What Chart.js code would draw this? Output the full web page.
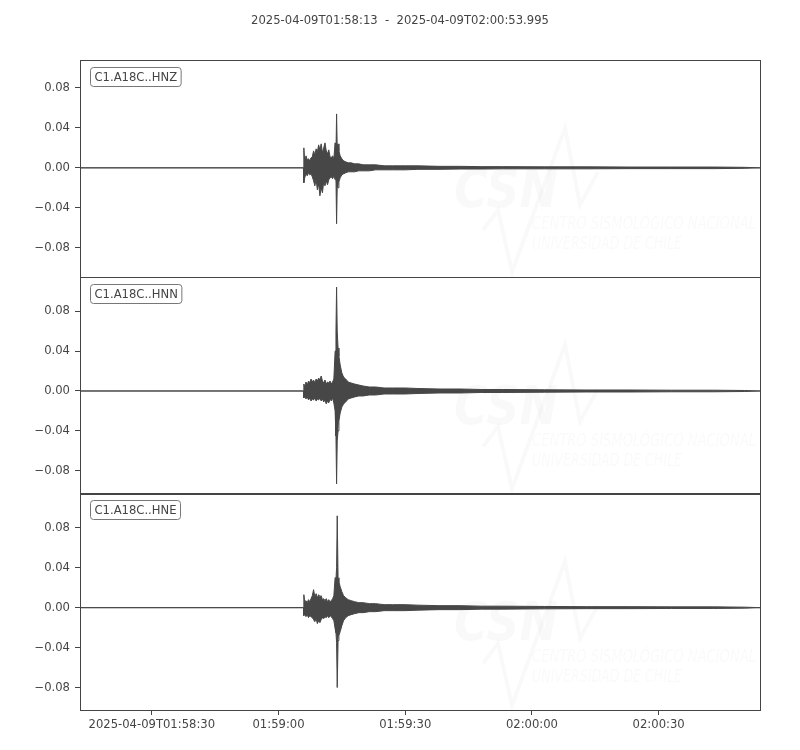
<!DOCTYPE html>
<html>
<head>
<meta charset="utf-8">
<script src="https://cdn.jsdelivr.net/npm/chart.js@4.4.1/dist/chart.umd.min.js"></script>
<style>
  html, body { margin: 0; padding: 0; background: #fff; }
  #wrap { width: 800px; height: 750px; position: relative; }
</style>
</head>
<body>
<div id="wrap"><canvas id="seismo"></canvas></div>
<script>
// Seconds after 2025-04-09T01:58:13
const startLabel = '2025-04-09T01:58:13';
const endLabel = '2025-04-09T02:00:53.995';
const duration = 160.995;
const traceNames = ['C1.A18C..HNZ', 'C1.A18C..HNN', 'C1.A18C..HNE'];
const xTickSeconds = [17, 47, 77, 107, 137];
const xTickLabels = ['2025-04-09T01:58:30', '01:59:00', '01:59:30', '02:00:00', '02:00:30'];
const yTicks = [-0.08, -0.04, 0, 0.04, 0.08];
const yMins = [-0.109, -0.1025, -0.1025];
const yMaxs = [0.108, 0.1145, 0.1145];

// envelope sample times (s)
const times = [0, 52.9, 53.0, 53.2, 53.5, 53.8, 54.1, 54.4, 54.7, 55.0, 55.3, 55.6, 55.9, 56.2, 56.5, 56.8,
  57.1, 57.4, 57.7, 58.0, 58.3, 58.6, 58.9, 59.2, 59.5, 59.8, 60.1, 60.4, 60.6, 60.75, 60.9, 61.1, 61.3,
  61.6, 62.0, 62.4, 62.9, 63.5, 64.2, 65, 66, 67, 68.5, 70, 72, 74, 77, 80, 85, 90, 95, 100, 110, 120,
  130, 140, 150, 157.4, 160.995];

// HNZ envelope
const hnzUpper = [0, 0, 0.020, 0.006, 0.012, 0.008, 0.009, 0.007, 0.010, 0.011, 0.017, 0.013, 0.019, 0.016, 0.023, 0.018,
  0.024, 0.015, 0.020, 0.025, 0.017, 0.014, 0.018, 0.011, 0.010, 0.012, 0.009, 0.025, 0.014, 0.054, 0.020, 0.024, 0.017,
  0.012, 0.009, 0.007, 0.006, 0.005, 0.005, 0.004, 0.004, 0.003, 0.003, 0.003, 0.002, 0.002, 0.002, 0.002, 0.0015, 0.0015, 0.0012, 0.0012, 0.001, 0.001,
  0.0008, 0.0008, 0.0008, 0.0005, 0];
const hnzLower = [0, 0, -0.015, -0.010, -0.006, -0.008, -0.005, -0.007, -0.006, -0.009, -0.013, -0.018, -0.012, -0.022, -0.016, -0.028,
  -0.020, -0.025, -0.014, -0.018, -0.013, -0.017, -0.012, -0.010, -0.009, -0.011, -0.008, -0.012, -0.010, -0.056, -0.018, -0.020, -0.014,
  -0.010, -0.007, -0.006, -0.005, -0.004, -0.004, -0.004, -0.003, -0.003, -0.003, -0.002, -0.002, -0.002, -0.002, -0.0015, -0.0015, -0.0012, -0.0012, -0.001, -0.001, -0.001,
  -0.0008, -0.0008, -0.0008, -0.0005, 0];

// HNN envelope
const hnnUpper = [0, 0, 0.007, 0.004, 0.009, 0.006, 0.010, 0.008, 0.012, 0.009, 0.011, 0.008, 0.012, 0.010, 0.013, 0.011,
  0.015, 0.010, 0.008, 0.011, 0.007, 0.009, 0.008, 0.010, 0.007, 0.009, 0.012, 0.040, 0.060, 0.104, 0.060, 0.043, 0.035,
  0.026, 0.018, 0.014, 0.012, 0.009, 0.008, 0.007, 0.006, 0.005, 0.004, 0.004, 0.003, 0.003, 0.003, 0.0025, 0.002, 0.002, 0.0015, 0.0015, 0.0012, 0.001,
  0.001, 0.0008, 0.0008, 0.0005, 0];
const hnnLower = [0, 0, -0.007, -0.005, -0.008, -0.006, -0.009, -0.007, -0.010, -0.008, -0.009, -0.007, -0.010, -0.008, -0.009, -0.007,
  -0.010, -0.008, -0.011, -0.009, -0.013, -0.010, -0.012, -0.008, -0.010, -0.007, -0.012, -0.020, -0.045, -0.093, -0.050, -0.040, -0.030,
  -0.022, -0.016, -0.013, -0.011, -0.008, -0.007, -0.006, -0.005, -0.005, -0.004, -0.004, -0.003, -0.003, -0.003, -0.0025, -0.002, -0.002, -0.0015, -0.0015, -0.0012, -0.001,
  -0.001, -0.0008, -0.0008, -0.0005, 0];

// HNE envelope
const hneUpper = [0, 0, 0.013, 0.006, 0.007, 0.005, 0.008, 0.006, 0.009, 0.012, 0.018, 0.011, 0.014, 0.010, 0.013, 0.011,
  0.012, 0.008, 0.009, 0.007, 0.009, 0.006, 0.008, 0.006, 0.007, 0.009, 0.012, 0.030, 0.028, 0.040, 0.092, 0.030, 0.026,
  0.021, 0.016, 0.012, 0.010, 0.008, 0.007, 0.006, 0.005, 0.005, 0.004, 0.004, 0.003, 0.003, 0.003, 0.0025, 0.002, 0.002, 0.0015, 0.0015, 0.0012, 0.001,
  0.001, 0.0008, 0.0008, 0.0005, 0];
const hneLower = [0, 0, -0.008, -0.006, -0.009, -0.007, -0.010, -0.008, -0.009, -0.010, -0.012, -0.014, -0.011, -0.016, -0.013, -0.015,
  -0.012, -0.010, -0.011, -0.009, -0.010, -0.008, -0.010, -0.008, -0.009, -0.011, -0.013, -0.021, -0.025, -0.035, -0.080, -0.033, -0.028,
  -0.024, -0.018, -0.013, -0.010, -0.008, -0.007, -0.006, -0.005, -0.005, -0.004, -0.004, -0.003, -0.003, -0.003, -0.0025, -0.002, -0.002, -0.0015, -0.0015, -0.0012, -0.001,
  -0.001, -0.0008, -0.0008, -0.0005, 0];

const waveColor = '#474747';
const textColor = '#444444';
const frameColor = '#444444';
const fontFamily = '"DejaVu Sans", sans-serif';

const envelopes = [[hnzUpper, hnzLower], [hnnUpper, hnnLower], [hneUpper, hneLower]];
const axisIds = ['y1', 'y2', 'y3'];

function toPoints(values) {
    return times.map((t, i) => ({ x: t, y: values[i] }));
}

const datasets = [];
envelopes.forEach((env, i) => {
    datasets.push({
        label: traceNames[i] + ' max',
        data: toPoints(env[0]),
        yAxisID: axisIds[i],
        borderColor: waveColor,
        backgroundColor: waveColor,
        borderWidth: 1,
        borderJoinStyle: 'bevel',
        pointRadius: 0,
        fill: '+1'
    });
    datasets.push({
        label: traceNames[i] + ' min',
        data: toPoints(env[1]),
        yAxisID: axisIds[i],
        borderColor: waveColor,
        borderWidth: 1,
        borderJoinStyle: 'bevel',
        pointRadius: 0,
        fill: false
    });
});

function yScale(i) {
    return {
        type: 'linear',
        position: 'left',
        stack: 'traces',
        stackWeight: 1,
        min: yMins[i],
        max: yMaxs[i],
        afterBuildTicks: (scale) => { scale.ticks = yTicks.map(v => ({ value: v })); },
        afterFit: (scale) => { scale.width = 80; },
        grid: { drawOnChartArea: false, tickLength: 5, color: frameColor, tickColor: frameColor },
        border: { display: false },
        ticks: {
            color: textColor,
            padding: 5,
            font: { family: fontFamily, size: 11.6 },
            callback: (v) => v.toFixed(2).replace('-', '\u2212')
        }
    };
}

// title, panel frames, trace labels, faint watermark
const panelPlugin = {
    id: 'panels',
    beforeDatasetsDraw(chart) {
        const ctx = chart.ctx;
        const area = chart.chartArea;
        ctx.save();
        ctx.fillStyle = textColor;
        ctx.font = '11.6px ' + fontFamily;
        ctx.textAlign = 'center';
        ctx.textBaseline = 'middle';
        ctx.fillText(startLabel + '  -  ' + endLabel, chart.width / 2, 21);
        ctx.restore();

        axisIds.forEach((id) => {
            const s = chart.scales[id];
            const L = area.left, T = s.top;
            ctx.save();
            ctx.fillStyle = 'rgba(0,0,0,0.022)';
            ctx.strokeStyle = 'rgba(0,0,0,0.022)';
            ctx.textBaseline = 'alphabetic';
            ctx.font = 'italic bold 54px "DejaVu Sans", sans-serif';
            ctx.save();
            ctx.translate(L + 374, T + 147);
            ctx.scale(104 / ctx.measureText('CSN').width, 1);
            ctx.fillText('CSN', 0, 0);
            ctx.restore();
            ctx.font = 'italic 17px "DejaVu Sans", sans-serif';
            [['CENTRO SISMOLÓGICO NACIONAL', 169, 224], ['UNIVERSIDAD DE CHILE', 189, 150]].forEach(([txt, dy, w]) => {
                ctx.save();
                ctx.translate(L + 452, T + dy);
                ctx.scale(w / ctx.measureText(txt).width, 1);
                ctx.fillText(txt, 0, 0);
                ctx.restore();
            });
            ctx.lineWidth = 4;
            ctx.beginPath();
            ctx.moveTo(L + 403, T + 170);
            ctx.lineTo(L + 418, T + 150);
            ctx.lineTo(L + 432, T + 212);
            ctx.lineTo(L + 485, T + 68);
            ctx.lineTo(L + 500, T + 145);
            ctx.lineTo(L + 518, T + 112);
            ctx.stroke();
            ctx.restore();
        });
    },
    afterDraw(chart) {
        const ctx = chart.ctx;
        const area = chart.chartArea;
        axisIds.forEach((id, i) => {
            const s = chart.scales[id];
            ctx.save();
            ctx.strokeStyle = frameColor;
            ctx.lineWidth = 1;
            ctx.strokeRect(Math.round(area.left) + 0.5, Math.round(s.top) + 0.5,
                Math.round(area.right - area.left), Math.round(s.bottom - s.top));
            // trace label box
            ctx.font = '11.6px ' + fontFamily;
            const w = ctx.measureText(traceNames[i]).width + 8;
            const bx = Math.round(area.left) + 10.5, by = Math.round(s.top) + 7.5, bh = 19;
            ctx.beginPath();
            ctx.roundRect(bx, by, w, bh, 3);
            ctx.fillStyle = '#ffffff';
            ctx.fill();
            ctx.strokeStyle = '#777777';
            ctx.stroke();
            ctx.fillStyle = textColor;
            ctx.textBaseline = 'middle';
            ctx.fillText(traceNames[i], bx + 4, by + bh / 2 + 0.5);
            ctx.restore();
        });
    }
};

new Chart(document.getElementById('seismo'), {
    type: 'line',
    data: { datasets: datasets },
    plugins: [panelPlugin],
    options: {
        responsive: true,
        maintainAspectRatio: false,
        animation: false,
        layout: { padding: { left: 0, right: 40, top: 60, bottom: 0 } },
        elements: { line: { tension: 0 } },
        plugins: {
            legend: { display: false },
            tooltip: { enabled: false },
            title: { display: false },
            filler: { propagate: false }
        },
        scales: {
            x: {
                type: 'linear',
                min: 0,
                max: duration,
                afterBuildTicks: (scale) => { scale.ticks = xTickSeconds.map(v => ({ value: v })); },
                afterFit: (scale) => { scale.height = 40; },
                grid: { drawOnChartArea: false, tickLength: 5, color: frameColor, tickColor: frameColor },
                border: { display: false },
                ticks: {
                    color: textColor,
                    padding: 3,
                    maxRotation: 0,
                    autoSkip: false,
                    font: { family: fontFamily, size: 11.6 },
                    callback: (v) => xTickLabels[xTickSeconds.indexOf(v)]
                }
            },
            // stacked axes are laid out bottom-up, so the last panel is declared first
            y3: yScale(2),
            y2: yScale(1),
            y1: yScale(0)
        }
    }
});
</script>
</body>
</html>
